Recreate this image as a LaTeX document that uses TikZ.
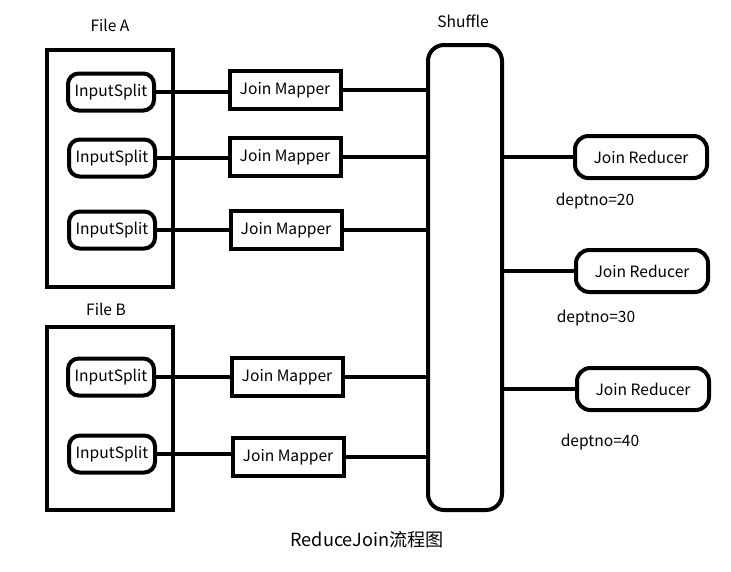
\documentclass[tikz,border=0pt]{standalone}
\usepackage{fontspec}
\setmainfont{Noto Sans CJK SC}
\begin{document}
\begin{tikzpicture}[x=0.75pt,y=-0.75pt,
    filebox/.style={draw,line width=3pt,minimum width=126*0.75pt},
    splitbox/.style={draw,line width=3pt,rounded corners=8pt,minimum width=86*0.75pt,minimum height=37*0.75pt,font=\fontsize{11.7}{13}\selectfont},
    mapbox/.style={draw,line width=3pt,minimum width=111*0.75pt,minimum height=38*0.75pt,font=\fontsize{11.7}{13}\selectfont},
    redbox/.style={draw,line width=3pt,rounded corners=10pt,minimum width=132*0.75pt,minimum height=42*0.75pt,font=\fontsize{11.7}{13}\selectfont},
    lbl/.style={font=\fontsize{11.7}{13}\selectfont},
    wire/.style={line width=3pt}]
    \useasboundingbox (0,0) rectangle (731,571);
    % files with their input splits
    \node[filebox,minimum height=237*0.75pt] (fileA) at (110,168.5) {};
    \node[filebox,minimum height=183*0.75pt] (fileB) at (110,418.5) {};
    \node[lbl] (labelA) at (110,25) {File A};
    \node[lbl] (labelB) at (106,309) {File B};
    \node[splitbox] (s1) at (111,92) {InputSplit};
    \node[splitbox] (s2) at (112,158) {InputSplit};
    \node[splitbox] (s3) at (112,230) {InputSplit};
    \node[splitbox] (s4) at (111,377) {InputSplit};
    \node[splitbox] (s5) at (112,454) {InputSplit};
    % mappers
    \node[mapbox] (m1) at (285,90) {Join Mapper};
    \node[mapbox] (m2) at (285,157) {Join Mapper};
    \node[mapbox] (m3) at (286,230) {Join Mapper};
    \node[mapbox] (m4) at (287,377) {Join Mapper};
    \node[mapbox] (m5) at (288,457) {Join Mapper};
    % shuffle and reducers
    \node[draw,line width=3pt,rounded corners=12pt,minimum width=74*0.75pt,minimum height=465*0.75pt] (shuffle) at (465,277.5) {};
    \node[lbl] (labelS) at (463,21) {Shuffle};
    \node[redbox] (r1) at (641,157) {Join Reducer};
    \node[redbox] (r2) at (642,271) {Join Reducer};
    \node[redbox] (r3) at (643,389) {Join Reducer};
    \node[lbl] (d20) at (595,201) {deptno=20};
    \node[lbl] (d30) at (596,318) {deptno=30};
    \node[lbl] (d40) at (600,442) {deptno=40};
    \node[font=\fontsize{13.6}{15}\selectfont] (title) at (367,540) {ReduceJoin流程图};
    \foreach \i in {1,...,5} {
        \draw[wire] (s\i.east) -- (s\i.east -| m\i.west);
        \draw[wire] (m\i.east) -- (m\i.east -| shuffle.west);
    }
    \foreach \i in {1,2,3}
        \draw[wire] (r\i.west -| shuffle.east) -- (r\i.west);
\end{tikzpicture}
\end{document}
